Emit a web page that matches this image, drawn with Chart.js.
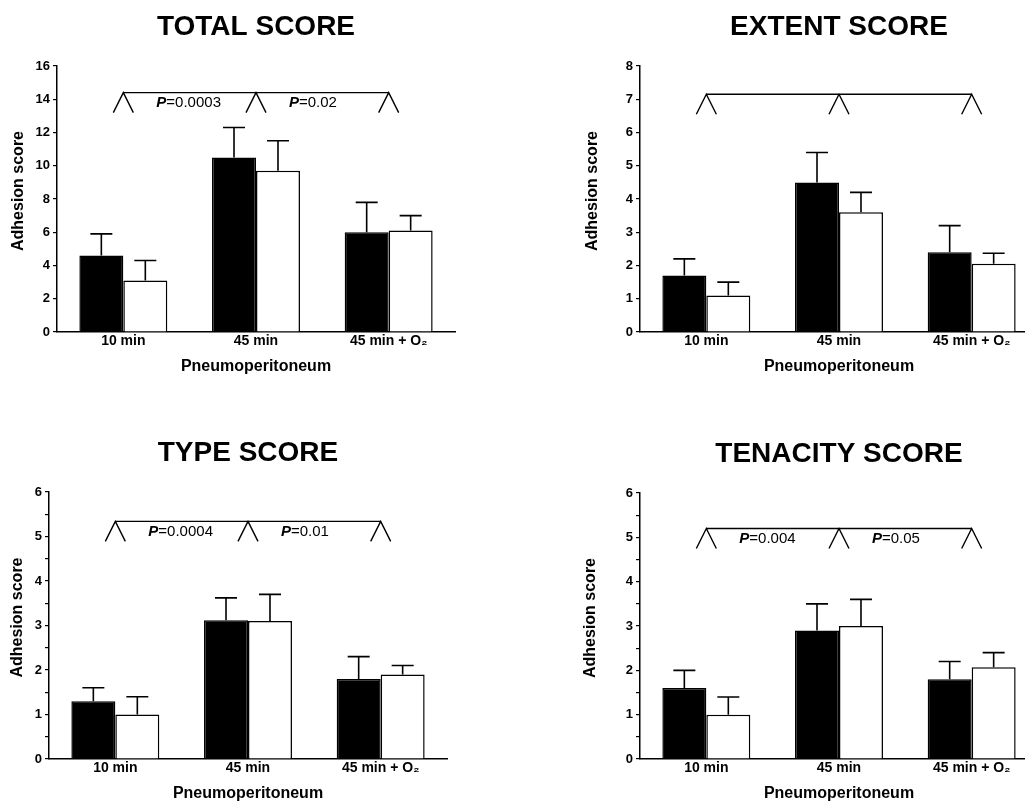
<!DOCTYPE html>
<html>
<head>
<meta charset="utf-8">
<script src="https://cdn.jsdelivr.net/npm/chart.js@4"></script>
<style>
  html, body { margin: 0; padding: 0; background: #fff; overflow: hidden; width: 1025px; height: 801px; }
  canvas { position: absolute; }
</style>
</head>
<body>
<canvas id="total" width="512" height="400" style="left:0;top:0"></canvas>
<canvas id="extent" width="540" height="400" style="left:512px;top:0"></canvas>
<canvas id="type" width="512" height="401" style="left:0;top:400px"></canvas>
<canvas id="tenacity" width="540" height="401" style="left:512px;top:400px"></canvas>
<script>
// Datos (media y desviación hacia arriba)
const categorias = ['10 min', '45 min', '45 min + O\u2082'];

const totalNegro = [4.6, 10.5, 6.0];
const totalNegroSd = [1.3, 1.8, 1.8];
const totalBlanco = [3.1, 9.7, 6.1];
const totalBlancoSd = [1.2, 1.8, 0.9];

const extentNegro = [1.7, 4.5, 2.4];
const extentNegroSd = [0.5, 0.9, 0.8];
const extentBlanco = [1.1, 3.6, 2.05];
const extentBlancoSd = [0.4, 0.6, 0.32];

const typeNegro = [1.3, 3.12, 1.8];
const typeNegroSd = [0.3, 0.5, 0.5];
const typeBlanco = [1.0, 3.1, 1.9];
const typeBlancoSd = [0.4, 0.6, 0.2];

const tenacityNegro = [1.6, 2.9, 1.8];
const tenacityNegroSd = [0.4, 0.6, 0.4];
const tenacityBlanco = [1.0, 3.0, 2.07];
const tenacityBlancoSd = [0.4, 0.6, 0.33];

// Ejes: máximo, paso de etiquetas, nivel del corchete y valores P
const maxTotal = 16, pasoTotal = 2, corcheteTotal = 14.4, pTotal = ['0.0003', '0.02'];
const maxExtent = 8, pasoExtent = 1, corcheteExtent = 7.15, pExtent = [];
const maxType = 6, pasoType = 1, corcheteType = 5.34, pType = ['0.0004', '0.01'];
const maxTenacity = 6, pasoTenacity = 1, corcheteTenacity = 5.2, pTenacity = ['0.004', '0.05'];

const FUENTE = '"Liberation Sans", Arial, sans-serif';
const ALTO_X = 34; // alto reservado para las etiquetas del eje x

// Plugin para barras de error, corchetes, títulos
const anotaciones = {
  id: 'anotaciones',
  afterDatasetsDraw(chart) {
    const o = chart.options.plugins.anotaciones;
    const { ctx, chartArea: a, scales: { x, y } } = chart;
    ctx.save();
    ctx.strokeStyle = '#000';
    ctx.fillStyle = '#000';
    ctx.lineWidth = 1.6;

    // barras de error (solo hacia arriba)
    chart.data.datasets.forEach((ds, di) => {
      chart.getDatasetMeta(di).data.forEach((bar, i) => {
        const arriba = y.getPixelForValue(ds.data[i] + ds.sd[i]);
        ctx.beginPath();
        ctx.moveTo(bar.x, bar.y);
        ctx.lineTo(bar.x, arriba);
        ctx.moveTo(bar.x - 11, arriba);
        ctx.lineTo(bar.x + 11, arriba);
        ctx.stroke();
      });
    });

    // corchete con ^
    const yb = y.getPixelForValue(o.corchete);
    ctx.lineWidth = 1.4;
    ctx.beginPath();
    ctx.moveTo(x.getPixelForValue(0), yb);
    ctx.lineTo(x.getPixelForValue(categorias.length - 1), yb);
    for (let i = 0; i < categorias.length; i++) {
      const cx = x.getPixelForValue(i);
      ctx.moveTo(cx - 10, yb + 20);
      ctx.lineTo(cx, yb);
      ctx.lineTo(cx + 10, yb + 20);
    }
    ctx.stroke();

    // valores P
    ctx.textBaseline = 'middle';
    ctx.textAlign = 'left';
    o.pValores.forEach((p, i) => {
      let px = x.getPixelForValue(i) + 33;
      ctx.font = 'italic bold 15px ' + FUENTE;
      ctx.fillText('P', px, yb + 10);
      px += ctx.measureText('P').width;
      ctx.font = '15px ' + FUENTE;
      ctx.fillText('=' + p, px, yb + 10);
    });

    // título
    const centro = (a.left + a.right) / 2;
    ctx.textAlign = 'center';
    ctx.font = 'bold 28px ' + FUENTE;
    ctx.fillText(o.titulo, centro, a.top - 39);

    // títulos de ejes
    ctx.font = 'bold 16px ' + FUENTE;
    ctx.fillText('Pneumoperitoneum', centro, a.bottom + 35);
    ctx.translate(a.left - o.desplazY, (a.top + a.bottom) / 2 - 8);
    ctx.rotate(-Math.PI / 2);
    ctx.fillText('Adhesion score', 0, 0);
    ctx.restore();
  }
};

function crearGrafico(id, titulo, negro, negroSd, blanco, blancoSd, max, paso, corchete, pValores, area, desplazY) {
  const canvas = document.getElementById(id);
  const ctx = canvas.getContext('2d');
  new Chart(ctx, {
    type: 'bar',
    data: {
      labels: categorias,
      datasets: [{
        data: negro,
        sd: negroSd,
        backgroundColor: '#000',
        borderColor: '#000',
        borderWidth: 1.5,
        categoryPercentage: 0.663,
        barPercentage: 1.0
      }, {
        data: blanco,
        sd: blancoSd,
        backgroundColor: '#fff',
        borderColor: '#000',
        borderWidth: 1.5,
        categoryPercentage: 0.663,
        barPercentage: 1.0
      }]
    },
    options: {
      responsive: false,
      animation: false,
      layout: {
        padding: {
          left: 0,
          top: area.top,
          right: canvas.width - area.right,
          bottom: canvas.height - area.bottom - ALTO_X
        }
      },
      plugins: {
        legend: { display: false },
        tooltip: { enabled: false },
        anotaciones: { titulo, corchete, pValores, desplazY }
      },
      scales: {
        x: {
          afterFit: s => { s.height = ALTO_X; },
          grid: { display: false },
          border: { display: true, color: '#000', width: 1.5 },
          ticks: { color: '#000', padding: -7, maxRotation: 0, font: { family: FUENTE, size: 14, weight: 'bold' } }
        },
        y: {
          min: 0,
          max: max,
          afterFit: s => { s.width = area.left; },
          grid: { drawOnChartArea: false, drawTicks: true, tickLength: 4, color: '#000', lineWidth: 1.2 },
          border: { display: true, color: '#000', width: 1.5 },
          ticks: {
            stepSize: paso / 2,
            color: '#000',
            padding: 3,
            font: { family: FUENTE, size: 13, weight: 'bold' },
            callback: v => (Math.abs(v / paso - Math.round(v / paso)) < 1e-6 ? v : '')
          }
        }
      }
    },
    plugins: [anotaciones]
  });
}

crearGrafico('total', 'TOTAL SCORE', totalNegro, totalNegroSd, totalBlanco, totalBlancoSd,
  maxTotal, pasoTotal, corcheteTotal, pTotal, { left: 57, right: 455, top: 66, bottom: 332 }, 38);
crearGrafico('extent', 'EXTENT SCORE', extentNegro, extentNegroSd, extentBlanco, extentBlancoSd,
  maxExtent, pasoExtent, corcheteExtent, pExtent, { left: 128, right: 526, top: 66, bottom: 332 }, 47);
crearGrafico('type', 'TYPE SCORE', typeNegro, typeNegroSd, typeBlanco, typeBlancoSd,
  maxType, pasoType, corcheteType, pType, { left: 49, right: 447, top: 92, bottom: 359 }, 31);
crearGrafico('tenacity', 'TENACITY SCORE', tenacityNegro, tenacityNegroSd, tenacityBlanco, tenacityBlancoSd,
  maxTenacity, pasoTenacity, corcheteTenacity, pTenacity, { left: 128, right: 526, top: 93, bottom: 359 }, 49);
</script>
</body>
</html>
